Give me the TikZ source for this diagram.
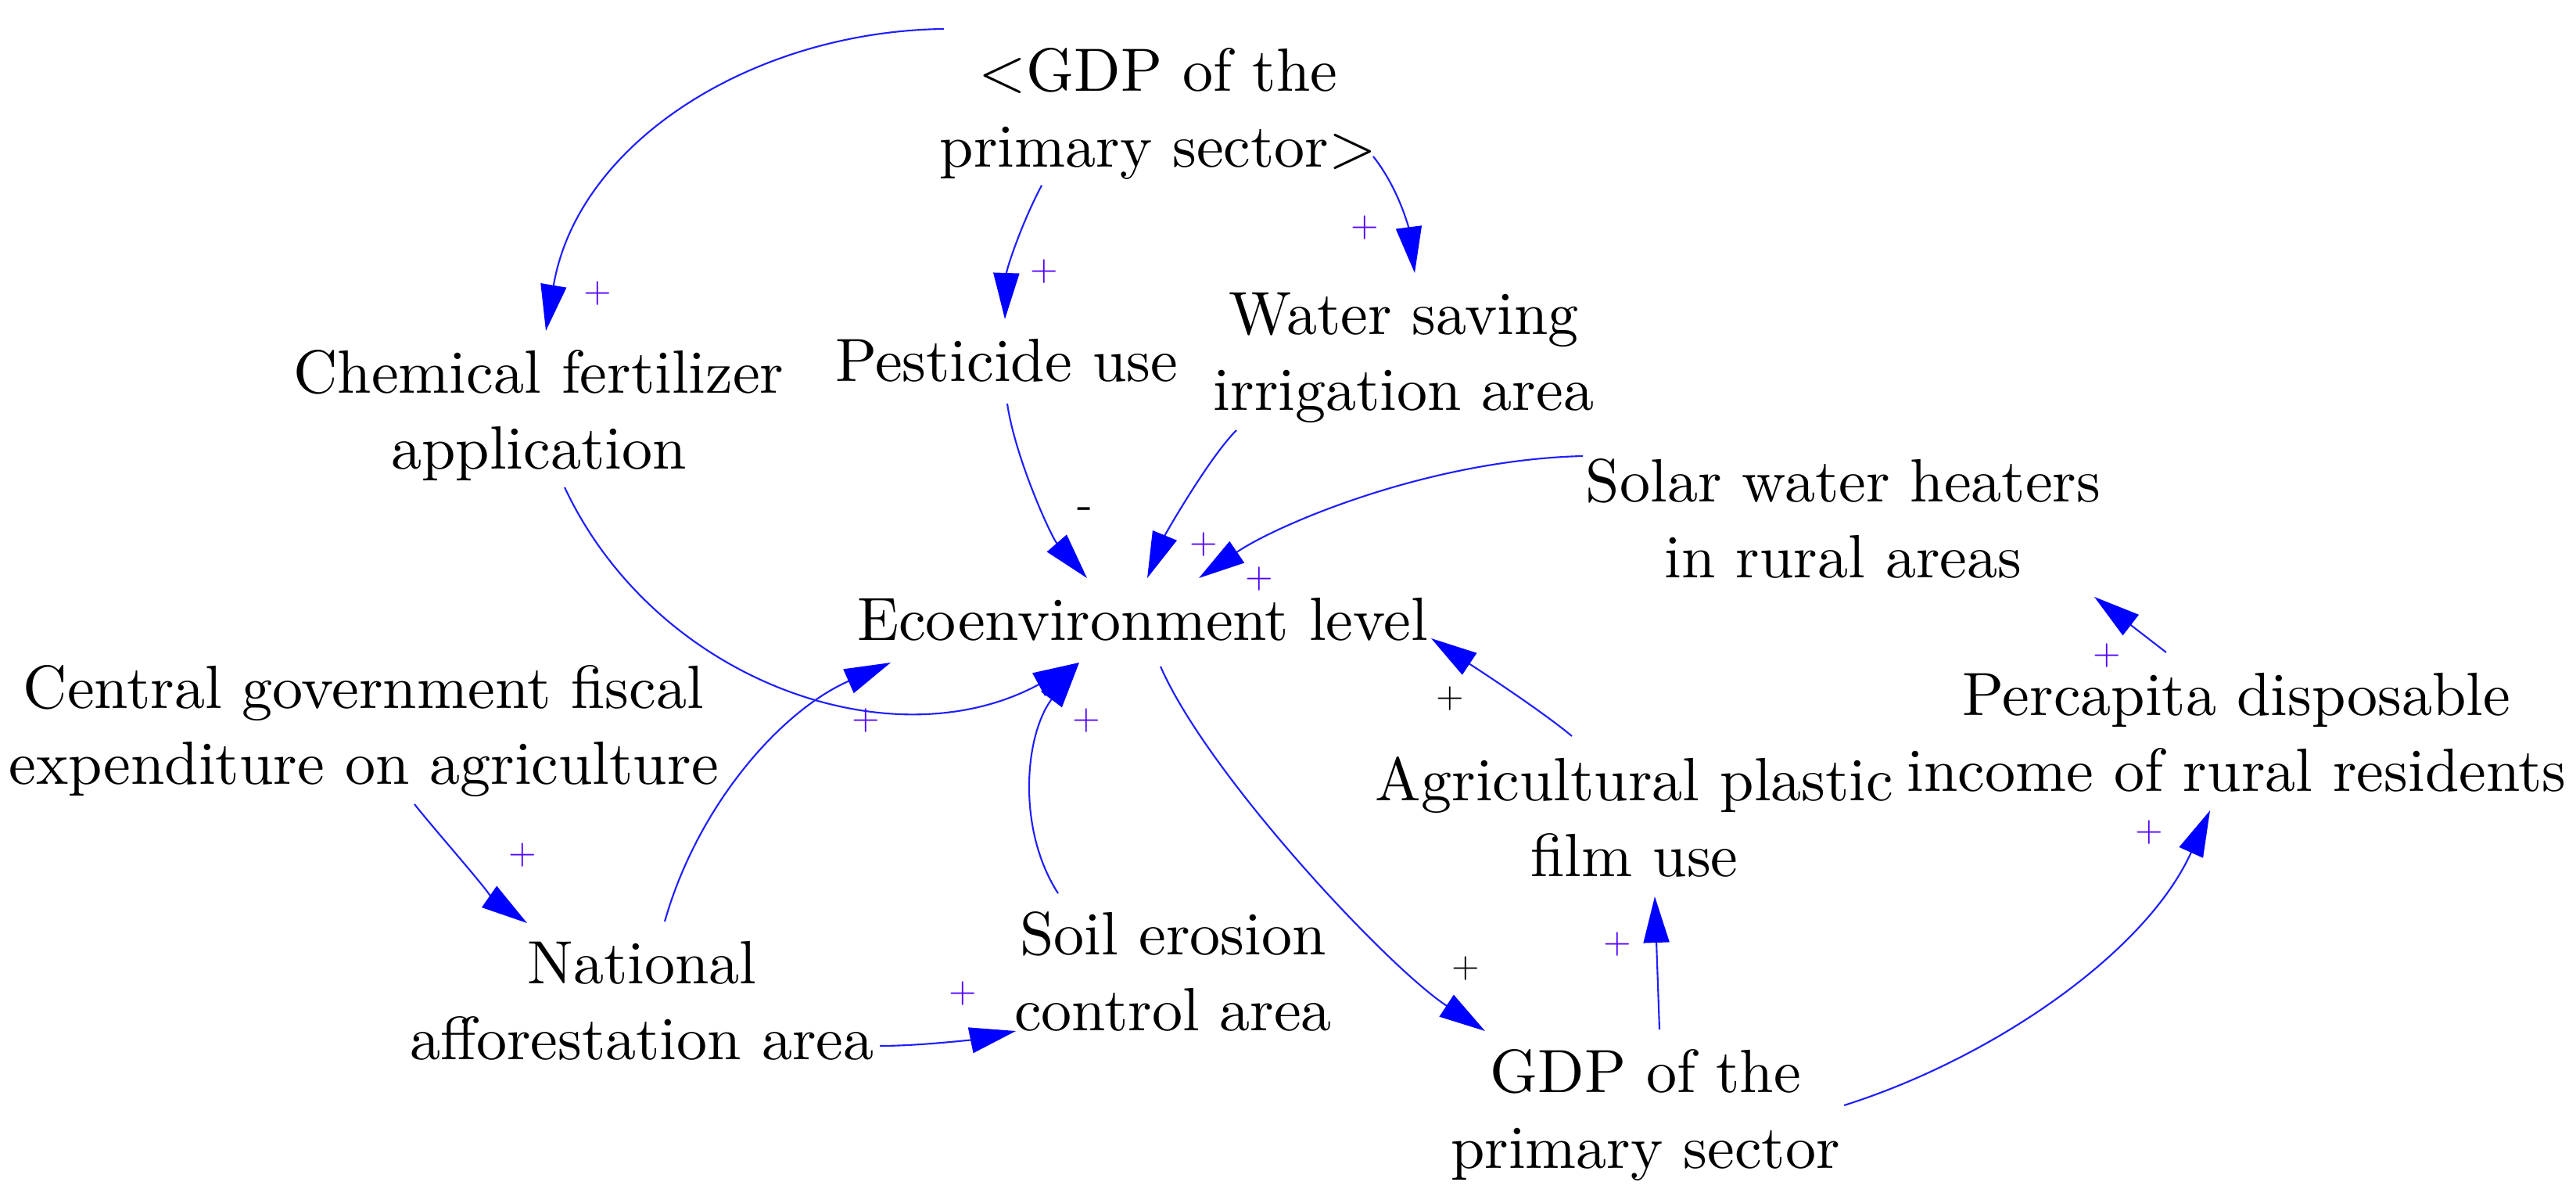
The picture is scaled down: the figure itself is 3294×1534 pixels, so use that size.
\documentclass[tikz,border=0pt]{standalone}
\usepackage{fontspec}
\setmainfont{lmroman10-regular.otf}
\usetikzlibrary{arrows.meta}
\definecolor{linkblue}{RGB}{30,30,255}
\definecolor{tipblue}{RGB}{0,0,255}
\definecolor{signblue}{RGB}{80,0,255}
\begin{document}
\begin{tikzpicture}[x=0.01cm,y=-0.01cm,
  var/.style={align=center,inner sep=0pt,font=\fontsize{22.2}{27.6}\selectfont},
  link/.style={draw=linkblue,line width=0.6pt,-{Triangle[length=0.59cm,width=0.33cm,color=tipblue]}},
  pol/.style={inner sep=0pt,text=signblue,font=\fontsize{13}{15}\selectfont},
  polk/.style={inner sep=0pt,text=black,font=\fontsize{13}{15}\selectfont}]
\useasboundingbox (0,0) rectangle (3294,1534);

% variables
\node[var] (gdps) at (1481,146) {\strut<GDP of the\\\strut primary sector>};
\node[var] (chem) at (689,532) {\strut Chemical fertilizer\\\strut application};
\node[var] (pest) at (1287,468) {\strut Pesticide use};
\node[var] (water) at (1795,457) {\strut Water saving\\\strut irrigation area};
\node[var] (solar) at (2357,671) {\strut Solar water heaters\\\strut in rural areas};
\node[var] (eco) at (1461,799) {\strut Ecoenvironment level};
\node[var] (central) at (465,935) {\strut Central government fiscal\\\strut expenditure on agriculture};
\node[var] (percap) at (2860,944) {\strut Percapita disposable\\\strut income of rural residents};
\node[var] (agri) at (2090,1053) {\strut Agricultural plastic\\\strut film use};
\node[var] (natl) at (821,1287) {\strut National\\\strut afforestation area};
\node[var] (soil) at (1500,1250) {\strut Soil erosion\\\strut control area};
\node[var] (gdp) at (2104,1426) {\strut GDP of the\\\strut primary sector};

% links
\draw[link] ([shift={(-274,-109)}]gdps.center) .. controls (964,40) and (739,181) .. ([shift={(9,-109)}]chem.center);
\draw[link] ([shift={(-149,91)}]gdps.center) .. controls (1305,288) and (1287,345) .. ([shift={(-2,-60)}]pest.center);
\draw[link] ([shift={(275,54)}]gdps.center) .. controls (1790,243) and (1802,295) .. ([shift={(14,-108)}]water.center);
\draw[link] ([shift={(33,91)}]chem.center) .. controls (838,870) and (1140,977) .. ([shift={(-81,48)}]eco.center);
\draw[link] ([shift={(1,48)}]pest.center) .. controls (1298,585) and (1344,686) .. ([shift={(-71,-60)}]eco.center);
\draw[link] ([shift={(-214,93)}]water.center) .. controls (1546,585) and (1490,683) .. ([shift={(6,-60)}]eco.center);
\draw[link] ([shift={(-333,-88)}]solar.center) .. controls (1824,588) and (1631,672) .. ([shift={(72,-60)}]eco.center);
\draw[link] ([shift={(-80,-112)}]agri.center) .. controls (1968,906) and (1878,848) .. ([shift={(369,17)}]eco.center);
\draw[link] ([shift={(29,-109)}]natl.center) .. controls (892,1030) and (998,909) .. ([shift={(-322,48)}]eco.center);
\draw[link] ([shift={(-147,-108)}]soil.center) .. controls (1300,1060) and (1310,940) .. ([shift={(-81,48)}]eco.center);
\draw[link] ([shift={(65,93)}]central.center) .. controls (555,1060) and (641,1157) .. ([shift={(-147,-107)}]natl.center);
\draw[link] ([shift={(304,50)}]natl.center) .. controls (1180,1337) and (1250,1328) .. ([shift={(-201,68)}]soil.center);
\draw[link] ([shift={(23,53)}]eco.center) .. controls (1544,990) and (1774,1236) .. ([shift={(-205,-108)}]gdp.center);
\draw[link] ([shift={(18,-110)}]gdp.center) -- ([shift={(26,93)}]agri.center);
\draw[link] ([shift={(254,-13)}]gdp.center) .. controls (2548,1353) and (2744,1218) .. ([shift={(-34,92)}]percap.center);
\draw[link] ([shift={(-90,-110)}]percap.center) -- ([shift={(321,92)}]solar.center);

% polarities
\node[pol] (s1) at (764,375) {+};
\node[pol] (s2) at (1335,347) {+};
\node[pol] (s3) at (1745,291) {+};
\node[polk,font=\fontsize{17}{19}\selectfont] (s4) at (1387,656) {-};
\node[pol] (s5) at (1539,696) {+};
\node[pol] (s6) at (1610,740) {+};
\node[pol] (s7) at (1107,921) {+};
\node[pol] (s8) at (1389,921) {+};
\node[polk] (s9) at (1854,893) {+};
\node[pol] (s10) at (668,1093) {+};
\node[pol] (s11) at (1231,1270) {+};
\node[polk] (s12) at (1874,1238) {+};
\node[pol] (s13) at (2068,1207) {+};
\node[pol] (s14) at (2748,1064) {+};
\node[pol] (s15) at (2694,838) {+};
\end{tikzpicture}
\end{document}
